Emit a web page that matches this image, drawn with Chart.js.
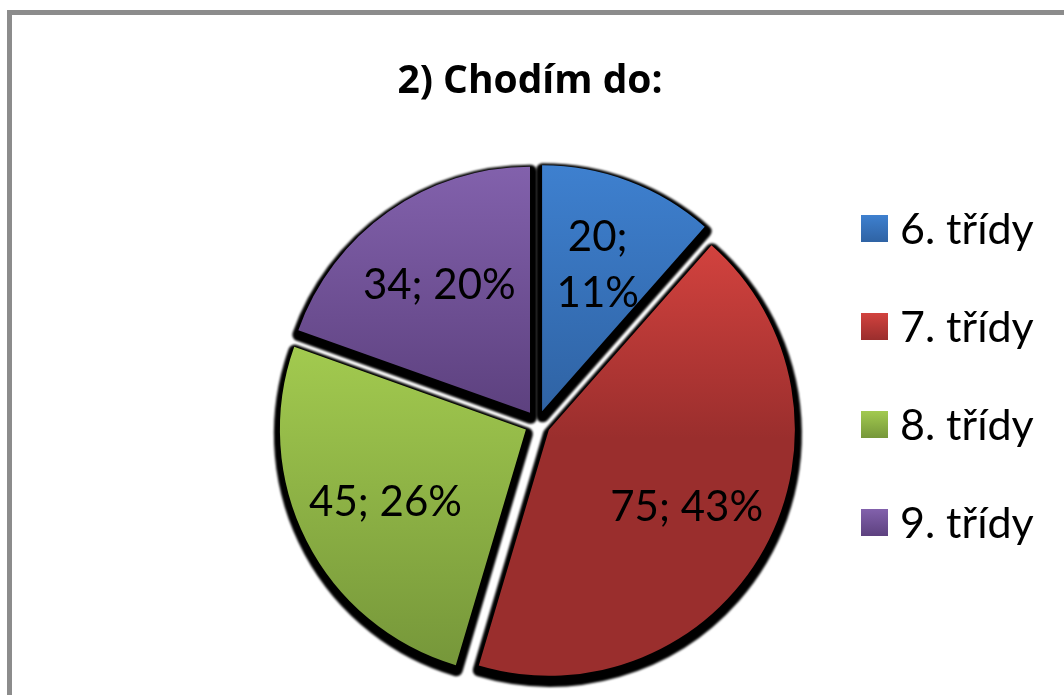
<!DOCTYPE html>
<html lang="cs">
<head>
<meta charset="utf-8">
<script src="https://cdn.jsdelivr.net/npm/chart.js@4.4.1/dist/chart.umd.min.js"></script>
<style>
    html, body { margin: 0; padding: 0; background: #fff; overflow: hidden; }
    #wrap { position: relative; width: 1064px; height: 695px; overflow: hidden; }
    #frame { position: absolute; left: 7px; top: 10px; width: 1200px; height: 800px; border: 5px solid #8c8c8c; box-sizing: border-box; }
    #chart { position: absolute; left: 0; top: 0; }
</style>
</head>
<body>
<div id="wrap">
    <div id="frame"></div>
    <canvas id="chart" width="1064" height="695"></canvas>
</div>
<script>
// Data
const chartTitle = '2) Chodím do:';
const categories = ['6. třídy', '7. třídy', '8. třídy', '9. třídy'];
const counts = [20, 75, 45, 34];
const percents = [11, 43, 26, 20];

// Colours (top of gradient -> bottom of gradient)
const lightColors = ['#3e80cf', '#d2423e', '#a2ca4f', '#8261ac'];
const darkColors = ['#2f63a4', '#9a2e2d', '#76973a', '#5d417f'];
const darkStops = [1, 0.45, 1, 1];

// Geometry / style
const RADIUS = 246;
const EXPLODE = 13;
const SHADOW_DX = 0.5;
const SHADOW_DY = 4.5;
const LABEL_POS = 0.64;
const FONT = 'Lato, "Open Sans", sans-serif';

const total = counts.reduce((a, b) => a + b, 0);

// uhly vysece (od 12 hodin, po smeru hodin)
function sliceAngles(i) {
    const before = counts.slice(0, i).reduce((a, b) => a + b, 0);
    const a0 = -Math.PI / 2 + before / total * 2 * Math.PI;
    const a1 = a0 + counts[i] / total * 2 * Math.PI;
    return [a0, a1];
}

// svisly rozsah vysunute vysece, pro gradient
function sliceYRange(chart, i) {
    const area = chart.chartArea;
    const [a0, a1] = sliceAngles(i);
    const mid = (a0 + a1) / 2;
    const cy = (area.top + area.bottom) / 2 + Math.sin(mid) * EXPLODE;
    const ys = [cy, cy + RADIUS * Math.sin(a0), cy + RADIUS * Math.sin(a1)];
    [-Math.PI / 2, Math.PI / 2, 3 * Math.PI / 2].forEach(t => {
        if (t >= a0 - 1e-6 && t <= a1 + 1e-6) ys.push(cy + RADIUS * Math.sin(t));
    });
    return [Math.min(...ys), Math.max(...ys)];
}

const sliceFill = (c) => {
    const i = c.dataIndex;
    if (i === undefined) return darkColors[0];
    const chart = c.chart;
    if (!chart.chartArea) return darkColors[i];
    const [y0, y1] = sliceYRange(chart, i);
    const g = chart.ctx.createLinearGradient(0, y0, 0, y1);
    g.addColorStop(0, lightColors[i]);
    g.addColorStop(darkStops[i], darkColors[i]);
    g.addColorStop(1, darkColors[i]);
    return g;
};

const excelPie = {
    id: 'excelPie',
    // vysunuti vsech vyseci o stejnou vzdalenost
    afterDatasetUpdate(chart, args) {
        args.meta.data.forEach(arc => {
            const mid = (arc.startAngle + arc.endAngle) / 2;
            arc.x += Math.cos(mid) * EXPLODE;
            arc.y += Math.sin(mid) * EXPLODE;
        });
    },
    // stin pod vysecemi
    beforeDatasetsDraw(chart) {
        const ctx = chart.ctx;
        ctx.save();
        ctx.filter = 'blur(1px)';
        ctx.fillStyle = '#000';
        ctx.strokeStyle = '#000';
        ctx.lineWidth = 13;
        ctx.lineJoin = 'round';
        chart.getDatasetMeta(0).data.forEach(arc => {
            const x = arc.x + SHADOW_DX, y = arc.y + SHADOW_DY;
            ctx.beginPath();
            ctx.moveTo(x, y);
            ctx.arc(x, y, arc.outerRadius, arc.startAngle, arc.endAngle);
            ctx.closePath();
            ctx.fill();
            ctx.stroke();
        });
        ctx.restore();
    },
    // popisky dat
    afterDatasetsDraw(chart) {
        const ctx = chart.ctx;
        ctx.save();
        ctx.font = '42px ' + FONT;
        ctx.fillStyle = '#000';
        ctx.textAlign = 'center';
        ctx.textBaseline = 'alphabetic';
        chart.getDatasetMeta(0).data.forEach((arc, i) => {
            const mid = (arc.startAngle + arc.endAngle) / 2;
            const r = arc.outerRadius * LABEL_POS;
            const x = arc.x + Math.cos(mid) * r;
            const y = arc.y + Math.sin(mid) * r;
            const lines = counts[i] / total < 0.15
                ? [counts[i] + ';', percents[i] + '%']
                : [counts[i] + '; ' + percents[i] + '%'];
            lines.forEach((line, k) => {
                ctx.fillText(line, x, y + 15 + (k - (lines.length - 1) / 2) * 56);
            });
        });
        ctx.restore();
    },
    // titulek a legenda
    afterDraw(chart) {
        const ctx = chart.ctx;
        ctx.save();
        ctx.fillStyle = '#000';
        ctx.font = 'bold 39px "Open Sans", Lato, sans-serif';
        ctx.textAlign = 'center';
        ctx.textBaseline = 'alphabetic';
        ctx.fillText(chartTitle, 530, 93);

        ctx.font = '43px ' + FONT;
        ctx.textAlign = 'left';
        categories.forEach((cat, i) => {
            const top = 215 + i * 98;
            const g = ctx.createLinearGradient(0, top, 0, top + 27);
            g.addColorStop(0, lightColors[i]);
            g.addColorStop(1, darkColors[i]);
            ctx.fillStyle = g;
            ctx.fillRect(861, top, 27, 27);
            ctx.fillStyle = '#000';
            ctx.fillText(cat, 900, top + 13.5 + 15);
        });
        ctx.restore();
    }
};

function drawChart() {
    const ctx = document.getElementById('chart').getContext('2d');
    new Chart(ctx, {
        type: 'pie',
        data: {
            labels: categories,
            datasets: [{
                data: counts,
                backgroundColor: sliceFill,
                borderWidth: 0,
                hoverOffset: 0,
                radius: RADIUS
            }]
        },
        options: {
            responsive: false,
            animation: false,
            devicePixelRatio: 1,
            events: [],
            layout: { padding: { left: 11, right: 0, top: 152, bottom: 0 } },
            plugins: {
                legend: { display: false },
                title: { display: false },
                tooltip: { enabled: false }
            }
        },
        plugins: [excelPie]
    });
}

Promise.all([
    document.fonts.load('42px Lato'),
    document.fonts.load('bold 39px "Open Sans"')
]).then(drawChart, drawChart);
</script>
</body>
</html>
